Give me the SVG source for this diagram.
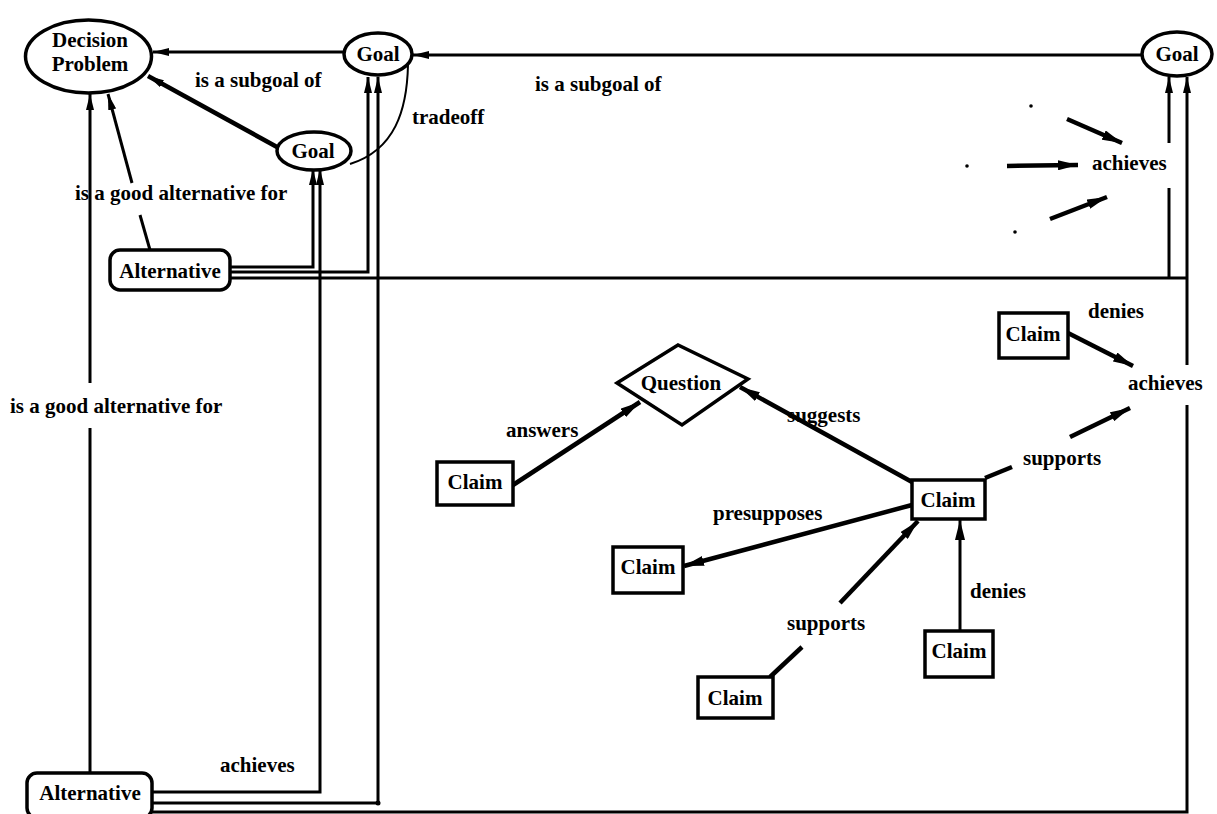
<svg xmlns="http://www.w3.org/2000/svg" width="1217" height="814" viewBox="0 0 1217 814">
<style>
text{font-family:"Liberation Serif","Times New Roman",serif;font-weight:bold;font-size:21px;fill:#000}
.n{text-anchor:middle}
.shape{fill:#fff;stroke:#000;stroke-width:3.5}
.c{fill:none;stroke:#000;stroke-width:3}
.t{fill:none;stroke:#000;stroke-width:4.5}
.thin{fill:none;stroke:#000;stroke-width:2}
</style>
<defs>
<marker id="ah" viewBox="0 0 16 8" refX="16" refY="4" markerWidth="16" markerHeight="8" markerUnits="userSpaceOnUse" orient="auto">
<path d="M0,0 L16,4 L0,8 z" fill="#000"/>
</marker>
<marker id="ahb" viewBox="0 0 20 10" refX="20" refY="5" markerWidth="20" markerHeight="10" markerUnits="userSpaceOnUse" orient="auto">
<path d="M0,0 L20,5 L0,10 z" fill="#000"/>
</marker>
</defs>
<rect width="1217" height="814" fill="#fff"/>
<g id="connectors">
<line class="c" x1="343" y1="52" x2="153" y2="52" marker-end="url(#ah)"/>
<line class="t" x1="277" y1="147" x2="148" y2="76" marker-end="url(#ah)"/>
<line class="c" x1="150" y1="250" x2="140" y2="215"/>
<line class="c" x1="132" y1="183" x2="108" y2="94" marker-end="url(#ah)"/>
<line class="c" x1="90" y1="773" x2="90" y2="428"/>
<line class="c" x1="90" y1="383" x2="90" y2="94" marker-end="url(#ah)"/>
<line class="c" x1="1142" y1="55" x2="413" y2="55" marker-end="url(#ah)"/>
<path class="thin" d="M408,65 C407,110 395,150 350,164"/>
<polyline class="c" points="230,267 313,267 313,169" marker-end="url(#ah)"/>
<polyline class="c" points="230,272 368,272 368,77" marker-end="url(#ah)"/>
<line class="c" x1="230" y1="278" x2="1187" y2="278"/>
<line class="c" x1="1169" y1="278" x2="1169" y2="188"/>
<line class="c" x1="1169" y1="143" x2="1169" y2="77" marker-end="url(#ah)"/>
<polyline class="c" points="152,792 320,792 320,169" marker-end="url(#ah)"/>
<polyline class="c" points="152,803 378,803 378,77" marker-end="url(#ah)"/>
<circle cx="378" cy="803" r="2.5" fill="#000"/>
<polyline class="c" points="152,812 1187,812 1187,405"/>
<line class="c" x1="1187" y1="365" x2="1187" y2="77" marker-end="url(#ah)"/>
<line class="t" x1="1067" y1="119" x2="1122" y2="143" marker-end="url(#ahb)"/>
<line class="t" x1="1007" y1="166" x2="1078" y2="165" marker-end="url(#ahb)"/>
<line class="t" x1="1050" y1="219" x2="1107" y2="197" marker-end="url(#ahb)"/>
<circle cx="1031" cy="106" r="1.8" fill="#000"/>
<circle cx="967" cy="166" r="1.8" fill="#000"/>
<circle cx="1015" cy="232" r="1.8" fill="#000"/>
<line class="t" x1="1068" y1="333" x2="1133" y2="366" marker-end="url(#ahb)"/>
<line class="t" x1="985" y1="478" x2="1012" y2="467"/>
<line class="t" x1="1070" y1="437" x2="1130" y2="408" marker-end="url(#ahb)"/>
<line class="t" x1="912" y1="482" x2="740" y2="387" marker-end="url(#ahb)"/>
<line class="t" x1="513" y1="485" x2="640" y2="402" marker-end="url(#ahb)"/>
<line class="t" x1="912" y1="505" x2="684" y2="566" marker-end="url(#ahb)"/>
<line class="t" x1="770" y1="677" x2="802" y2="647"/>
<line class="t" x1="840" y1="603" x2="918" y2="521" marker-end="url(#ahb)"/>
<line class="c" x1="960" y1="631" x2="960" y2="520" marker-end="url(#ahb)"/>
</g>
<g id="labels">
<text x="195" y="87">is a subgoal of</text>
<text x="535" y="91">is a subgoal of</text>
<text x="412" y="124">tradeoff</text>
<text x="75" y="200">is a good alternative for</text>
<text x="10" y="413">is a good alternative for</text>
<text x="1092" y="170">achieves</text>
<text x="1128" y="390">achieves</text>
<text x="220" y="772">achieves</text>
<text x="1088" y="318">denies</text>
<text x="1023" y="465">supports</text>
<text x="787" y="422">suggests</text>
<text x="506" y="437">answers</text>
<text x="713" y="520">presupposes</text>
<text x="787" y="630">supports</text>
<text x="970" y="598">denies</text>
</g>
<g id="decision-problem">
<ellipse class="shape" cx="88.5" cy="56.5" rx="63" ry="36.5"/>
<text class="n" x="90" y="47">Decision</text>
<text class="n" x="90" y="71">Problem</text>
</g>
<g id="goal-1">
<ellipse class="shape" cx="378" cy="54" rx="34" ry="21"/>
<text class="n" x="378" y="61">Goal</text>
</g>
<g id="goal-2">
<ellipse class="shape" cx="314" cy="151" rx="37" ry="19"/>
<text class="n" x="313" y="158">Goal</text>
</g>
<g id="goal-3">
<ellipse class="shape" cx="1177" cy="54" rx="35" ry="22"/>
<text class="n" x="1177" y="61">Goal</text>
</g>
<g id="alternative-1">
<rect class="shape" x="110" y="250" width="120" height="40" rx="10"/>
<text class="n" x="170" y="278">Alternative</text>
</g>
<g id="alternative-2">
<rect class="shape" x="27" y="773" width="125" height="45" rx="10"/>
<text class="n" x="90" y="800">Alternative</text>
</g>
<g id="question">
<polygon class="shape" points="617,383 678,345 748,379 682,425"/>
<text class="n" x="681" y="390">Question</text>
</g>
<g id="claim-answers">
<rect class="shape" x="437" y="462" width="76" height="43"/>
<text class="n" x="475" y="489">Claim</text>
</g>
<g id="claim-presupposed">
<rect class="shape" x="613" y="547" width="70" height="46"/>
<text class="n" x="648" y="574">Claim</text>
</g>
<g id="claim-central">
<rect class="shape" x="912" y="480" width="73" height="39"/>
<text class="n" x="948" y="507">Claim</text>
</g>
<g id="claim-denies-top">
<rect class="shape" x="999" y="313" width="69" height="45"/>
<text class="n" x="1033" y="341">Claim</text>
</g>
<g id="claim-supports">
<rect class="shape" x="698" y="677" width="75" height="41"/>
<text class="n" x="735" y="705">Claim</text>
</g>
<g id="claim-denies-bottom">
<rect class="shape" x="925" y="631" width="68" height="46"/>
<text class="n" x="959" y="658">Claim</text>
</g>
</svg>
